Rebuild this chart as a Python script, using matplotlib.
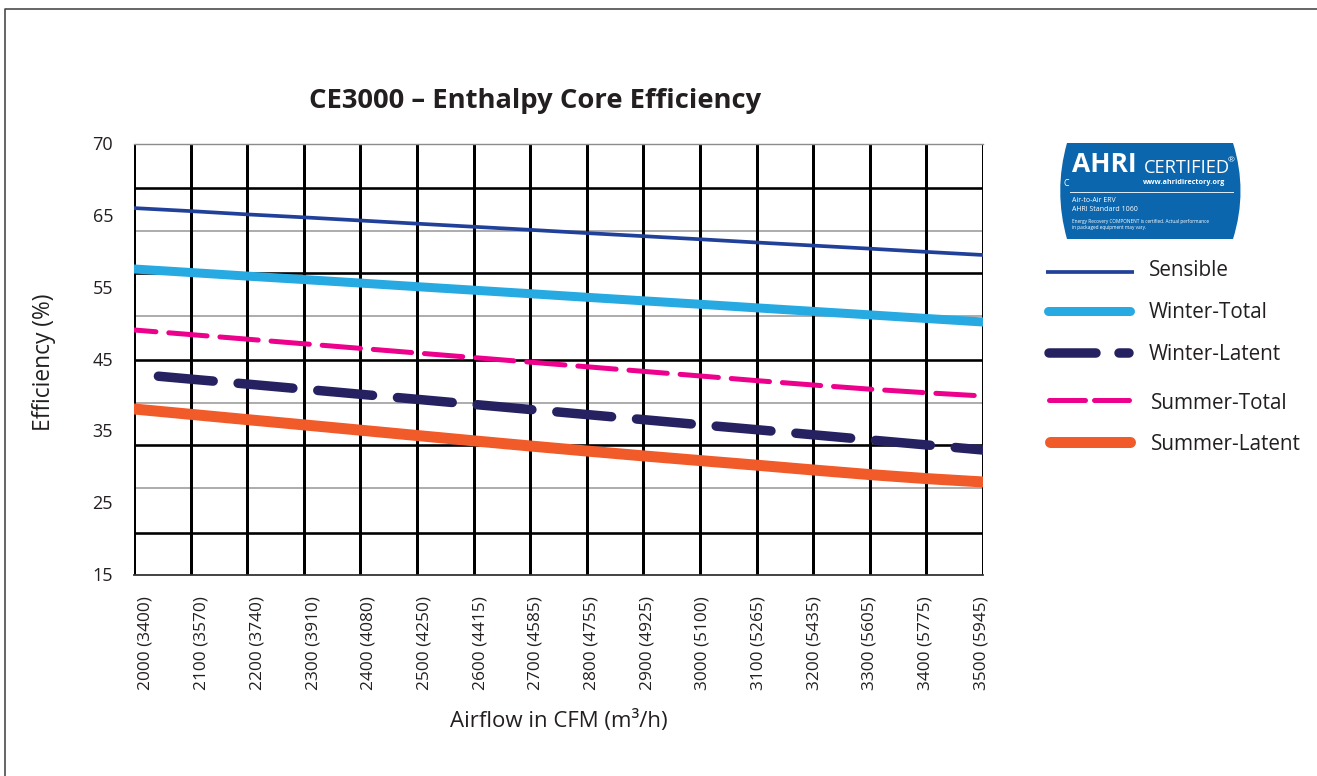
import numpy as np
import matplotlib
matplotlib.use("Agg")
import matplotlib.pyplot as plt
from matplotlib.lines import Line2D
from matplotlib.patches import PathPatch
from matplotlib.path import Path
from matplotlib.transforms import ScaledTranslation

W, H = 1317, 776

airflow = [2000, 2100, 2200, 2300, 2400, 2500, 2600, 2700, 2800, 2900, 3000, 3100, 3200, 3300, 3400, 3500]
x_labels = ["2000 (3400)", "2100 (3570)", "2200 (3740)", "2300 (3910)", "2400 (4080)", "2500 (4250)",
            "2600 (4415)", "2700 (4585)", "2800 (4755)", "2900 (4925)", "3000 (5100)", "3100 (5265)",
            "3200 (5435)", "3300 (5605)", "3400 (5775)", "3500 (5945)"]

# the printed y axis is not linear: 70 and 65 are one step apart, the rest are 10 apart
y_ticks = [15, 25, 35, 45, 55, 65, 70]
black_rows = [20.85, 33.1, 44.93, 57.04, 66.95]
grey_rows = [27.11, 38.95, 51.06, 62.88]

sensible = [65.54, 65.33, 65.10, 64.79, 64.35, 63.91, 63.48, 63.05, 62.60, 62.17, 61.74, 61.29, 60.86, 60.43, 59.98, 59.55]
winter_total = [57.60, 57.11, 56.61, 56.13, 55.64, 55.14, 54.65, 54.16, 53.66, 53.17, 52.69, 52.19, 51.70, 51.21, 50.71, 50.22]
winter_latent = [42.98, 42.27, 41.58, 40.87, 40.16, 39.46, 38.75, 38.04, 37.34, 36.63, 35.92, 35.23, 34.52, 33.81, 33.11, 32.40]
summer_total = [49.11, 48.47, 47.83, 47.19, 46.55, 45.91, 45.27, 44.63, 43.99, 43.35, 42.71, 42.06, 41.45, 40.87, 40.37, 39.92]
summer_latent = [38.11, 37.37, 36.63, 35.90, 35.16, 34.42, 33.68, 32.96, 32.26, 31.58, 30.93, 30.29, 29.62, 28.98, 28.42, 27.95]

BLUE = "#21409a"
CYAN = "#27aae1"
NAVY = "#262262"
PINK = "#ec008c"
ORANGE = "#f15a29"
TEXT = "#231f20"
LOGO = "#0b66ad"

plt.rcParams["font.family"] = ["Open Sans", "DejaVu Sans"]
plt.rcParams["lines.scale_dashes"] = False


def px(v):
    # pixels to points at dpi 100
    return v * 0.72


def fx(x):
    return x / W


def fy(y):
    return 1 - y / H


def forward(v):
    return np.interp(v, y_ticks, np.arange(len(y_ticks)))


def inverse(v):
    return np.interp(v, np.arange(len(y_ticks)), y_ticks)


fig = plt.figure(figsize=(W / 100, H / 100), dpi=100)
ax = fig.add_axes([fx(134), fy(575), 849 / W, 431 / H])
ax.set_yscale("function", functions=(forward, inverse))
ax.set_xlim(2000, 3500)
ax.set_ylim(15, 70)

ax.hlines(grey_rows, 2000, 3500, color="#9a9a9a", lw=px(1.6), zorder=1)
ax.hlines(black_rows, 2000, 3500, color="black", lw=px(2.6), zorder=1.2)
ax.vlines(airflow, 15, 70, color="black", lw=px(3), zorder=1.5)

ax.plot(airflow, sensible, color=BLUE, lw=px(3.7), zorder=3)
ax.plot(airflow, winter_total, color=CYAN, lw=px(9), zorder=3)
ax.plot(airflow, winter_latent, color=NAVY, lw=px(9.5), dash_capstyle="round",
        linestyle=(px(55.5), (px(55), px(25))), zorder=3)
ax.plot(airflow, summer_total, color=PINK, lw=px(5), dash_capstyle="round",
        linestyle=(px(16.4), (px(38.4), px(12.9))), zorder=3)
ax.plot(airflow, summer_latent, color=ORANGE, lw=px(11), zorder=3)

for side in ["left", "right"]:
    ax.spines[side].set_visible(False)
ax.spines["top"].set_color("#8c8c8c")
ax.spines["top"].set_linewidth(px(1.4))
ax.spines["bottom"].set_color("#333333")
ax.spines["bottom"].set_linewidth(px(1.8))

ax.set_yticks(y_ticks)
ax.set_yticklabels([str(t) for t in y_ticks])
ax.minorticks_off()
ax.tick_params(axis="y", length=0, pad=px(21), labelsize=13, labelcolor=TEXT)
ax.set_xticks(airflow)
ax.set_xticklabels(x_labels, rotation=90)
ax.tick_params(axis="x", length=0, pad=px(21), labelsize=12.4, labelcolor=TEXT)

# printed labels are spaced a little tighter than the grid
for i, lab in enumerate(ax.get_xticklabels()):
    shift = (12 - i * 0.93) / 100
    lab.set_transform(lab.get_transform() + ScaledTranslation(shift, 0, fig.dpi_scale_trans))
for lab in ax.get_yticklabels():
    lab.set_transform(lab.get_transform() + ScaledTranslation(0, 1 / 100, fig.dpi_scale_trans))

fig.text(fx(535), fy(101), "CE3000 – Enthalpy Core Efficiency", fontsize=19.75, fontweight="bold",
         color=TEXT, ha="center", va="center")
fig.text(fx(44), fy(362), "Efficiency (%)", fontsize=16.4, color=TEXT, rotation=90, ha="center", va="center")
fig.text(fx(559), fy(721), "Airflow in CFM (m³/h)", fontsize=16, color=TEXT, ha="center", va="center")

# page frame
fig.add_artist(Line2D([fx(5), fx(5), 1], [0, fy(9), fy(9)], color="#444444", lw=px(1.6)))

# legend drawn by hand, the rows are not evenly spaced
legend_rows = [
    ("Sensible", BLUE, 3.7, "-", 1046, 1134, 272, 1149, 271, "butt"),
    ("Winter-Total", CYAN, 9, "-", 1048, 1130, 311, 1149, 313, "round"),
    ("Winter-Latent", NAVY, 9.5, (0, (px(47), px(23))), 1049, 1129, 353, 1149, 355, "round"),
    ("Summer-Total", PINK, 5, (0, (px(36), px(9))), 1049, 1129, 400, 1151, 403, "round"),
    ("Summer-Latent", ORANGE, 11, "-", 1050, 1130, 442, 1151, 445, "round"),
]
for name, col, lw, ls, x0, x1, y, tx, ty, cap in legend_rows:
    fig.add_artist(Line2D([fx(x0), fx(x1)], [fy(y), fy(y)], color=col, lw=px(lw), linestyle=ls,
                          solid_capstyle=cap, dash_capstyle="round"))
    fig.text(fx(tx), fy(ty), name, fontsize=14.9, color=TEXT, ha="left", va="center")

# AHRI badge
badge = [(1067, 143), (1233, 143), (1243, 175), (1243, 207), (1233, 239), (1067, 239),
         (1058, 207), (1058, 175), (1067, 143)]
badge_codes = [Path.MOVETO, Path.LINETO, Path.CURVE4, Path.CURVE4, Path.CURVE4, Path.LINETO,
               Path.CURVE4, Path.CURVE4, Path.CURVE4]
fig.add_artist(PathPatch(Path([(fx(a), fy(b)) for a, b in badge], badge_codes), transform=fig.transFigure,
                         facecolor=LOGO, edgecolor="none"))
fig.add_artist(Line2D([fx(1070), fx(1233)], [fy(191.5), fy(191.5)], color="#dbe9f5", lw=px(1)))
fig.text(fx(1072), fy(165), "AHRI", fontsize=19, fontweight="bold", color="white", ha="left", va="center")
fig.text(fx(1144), fy(168), "CERTIFIED", fontsize=13.2, color="white", ha="left", va="center")
fig.text(fx(1228), fy(161), "®", fontsize=6, color="white", ha="left", va="center")
fig.text(fx(1143), fy(183), "www.ahridirectory.org", fontsize=5.2, fontweight="bold", color="white", ha="left", va="center")
fig.text(fx(1064), fy(183), "C", fontsize=6.5, color="white", ha="left", va="center")
fig.text(fx(1072), fy(200.5), "Air-to-Air ERV", fontsize=5, color="white", ha="left", va="center")
fig.text(fx(1072), fy(209.5), "AHRI Standard 1060", fontsize=5, color="white", ha="left", va="center")
fig.text(fx(1072), fy(221), "Energy Recovery COMPONENT is certified. Actual performance", fontsize=3.45, color="white", ha="left", va="center")
fig.text(fx(1072), fy(227), "in packaged equipment may vary.", fontsize=3.45, color="white", ha="left", va="center")

fig.savefig("out.png", dpi=100)
